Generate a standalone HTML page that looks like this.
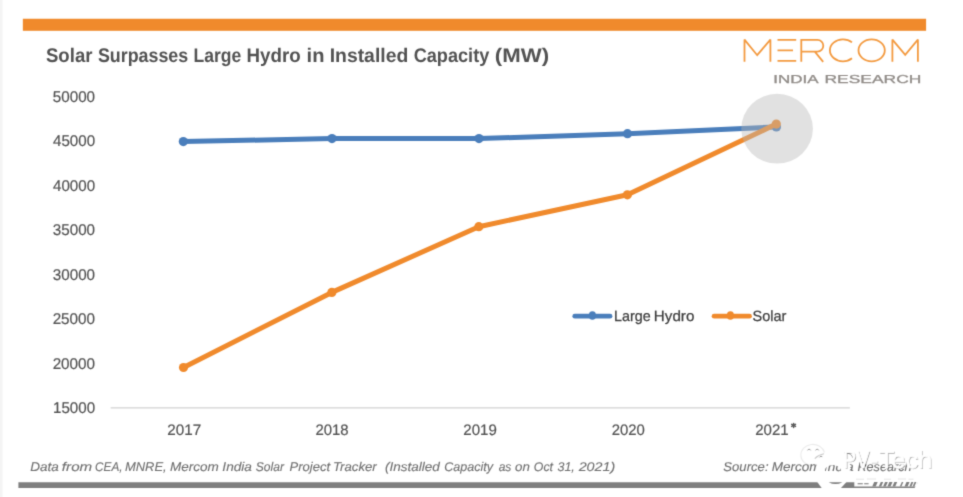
<!DOCTYPE html>
<html lang="en">
<head>
<meta charset="utf-8">
<title>Solar Surpasses Large Hydro in Installed Capacity (MW)</title>
<style>
  html, body { margin: 0; padding: 0; background: #ffffff; }
  body { width: 963px; height: 497px; overflow: hidden; position: relative;
         font-family: "Liberation Sans", sans-serif; }
  svg { will-change: transform; position: absolute; left: 0; top: 0; display: block; }
  text { font-family: "Liberation Sans", sans-serif; text-rendering: geometricPrecision; }
</style>
</head>
<body>
<svg width="963" height="497" viewBox="0 0 963 497">
  <defs>
    <filter id="soft" x="0" y="0" width="963" height="497" filterUnits="userSpaceOnUse" color-interpolation-filters="sRGB">
      <feConvolveMatrix order="3" kernelMatrix="0.01960 0.10080 0.01960 0.10080 0.51840 0.10080 0.01960 0.10080 0.01960" divisor="1" bias="0" edgeMode="duplicate" preserveAlpha="true"/>
    </filter>
  </defs>
  <g filter="url(#soft)">
  <!-- page background -->
  <rect x="0" y="0" width="963" height="497" fill="#ffffff"/>
  <rect x="0" y="0" width="2.5" height="497" fill="#f4f4f4"/>

  <!-- top orange bar -->
  <rect x="22.85" y="18.75" width="903.25" height="12.05" fill="#f08a2c"/>



  <!-- MERCOM logo -->
  <g fill="none" stroke="#f39a40" stroke-width="1.8" stroke-linecap="butt" stroke-linejoin="miter" stroke-miterlimit="1.6">
    <path d="M744.5,61.8 V39.6 L757.2,55.2 L770.4,39.6 V61.8"/>
    <path d="M777.5,39.9 H796.2 M777.5,50.35 H793 M777.5,60.8 H796.2"/>
    <path d="M801.3,61.8 V39.9 H817.4 A5.9,5.9 0 0 1 817.4,51.7 H801.3 M814.8,51.7 L823.2,61.8"/>
    <path d="M852,42.4 A13.1,10.95 0 1 0 852,58.3"/>
    <ellipse cx="871.65" cy="50.35" rx="13.15" ry="10.95"/>
    <path d="M892.4,61.8 V39.6 L905.2,54.9 L917.9,39.6 V61.8"/>
  </g>

  <!-- x axis line -->
  <rect x="110.65" y="407.1" width="739.25" height="1.5" fill="#dadada"/>

  <!-- TEXT-BEGIN -->
  <!-- title -->
  <text x="45.96" y="61.8" font-size="19.7" font-weight="bold" fill="#525252" textLength="46.52" lengthAdjust="spacingAndGlyphs">Solar</text>
  <text x="97.89" y="61.8" font-size="19.7" font-weight="bold" fill="#525252" textLength="90.35" lengthAdjust="spacingAndGlyphs">Surpasses</text>
  <text x="193.43" y="61.8" font-size="19.7" font-weight="bold" fill="#525252" textLength="47.77" lengthAdjust="spacingAndGlyphs">Large</text>
  <text x="246.55" y="61.8" font-size="19.7" font-weight="bold" fill="#525252" textLength="54.19" lengthAdjust="spacingAndGlyphs">Hydro</text>
  <text x="306.60" y="61.8" font-size="19.7" font-weight="bold" fill="#525252" textLength="17.85" lengthAdjust="spacingAndGlyphs">in</text>
  <text x="329.70" y="61.8" font-size="19.7" font-weight="bold" fill="#525252" textLength="78.57" lengthAdjust="spacingAndGlyphs">Installed</text>
  <text x="413.66" y="61.8" font-size="19.7" font-weight="bold" fill="#525252" textLength="75.64" lengthAdjust="spacingAndGlyphs">Capacity</text>
  <text x="494.89" y="61.8" font-size="19.7" font-weight="bold" fill="#525252" textLength="54.31" lengthAdjust="spacingAndGlyphs">(MW)</text>
  <!-- y axis -->
  <text x="52.79" y="101.8" font-size="15.5" fill="#525252" textLength="42.30" lengthAdjust="spacingAndGlyphs" stroke="#525252" stroke-width="0.2">50000</text>
  <text x="53.05" y="146.3" font-size="15.5" fill="#525252" textLength="42.04" lengthAdjust="spacingAndGlyphs" stroke="#525252" stroke-width="0.2">45000</text>
  <text x="53.05" y="190.8" font-size="15.5" fill="#525252" textLength="42.04" lengthAdjust="spacingAndGlyphs" stroke="#525252" stroke-width="0.2">40000</text>
  <text x="52.82" y="235.3" font-size="15.5" fill="#525252" textLength="42.27" lengthAdjust="spacingAndGlyphs" stroke="#525252" stroke-width="0.2">35000</text>
  <text x="52.82" y="279.8" font-size="15.5" fill="#525252" textLength="42.27" lengthAdjust="spacingAndGlyphs" stroke="#525252" stroke-width="0.2">30000</text>
  <text x="52.63" y="324.3" font-size="15.5" fill="#525252" textLength="42.46" lengthAdjust="spacingAndGlyphs" stroke="#525252" stroke-width="0.2">25000</text>
  <text x="52.63" y="368.8" font-size="15.5" fill="#525252" textLength="42.46" lengthAdjust="spacingAndGlyphs" stroke="#525252" stroke-width="0.2">20000</text>
  <text x="53.05" y="413.3" font-size="15.5" fill="#525252" textLength="42.04" lengthAdjust="spacingAndGlyphs" stroke="#525252" stroke-width="0.2">15000</text>
  <!-- x axis -->
  <text x="167.33" y="434.9" font-size="15.2" fill="#525252" textLength="33.93" lengthAdjust="spacingAndGlyphs" stroke="#525252" stroke-width="0.2">2017</text>
  <text x="315.45" y="434.9" font-size="15.2" fill="#525252" textLength="33.20" lengthAdjust="spacingAndGlyphs" stroke="#525252" stroke-width="0.2">2018</text>
  <text x="463.34" y="434.9" font-size="15.2" fill="#525252" textLength="33.47" lengthAdjust="spacingAndGlyphs" stroke="#525252" stroke-width="0.2">2019</text>
  <text x="611.65" y="434.9" font-size="15.2" fill="#525252" textLength="33.13" lengthAdjust="spacingAndGlyphs" stroke="#525252" stroke-width="0.2">2020</text>
  <text x="755.24" y="434.9" font-size="15.2" fill="#525252" textLength="33.49" lengthAdjust="spacingAndGlyphs" stroke="#525252" stroke-width="0.2">2021</text>
  <!-- legend -->
  <text x="614.03" y="321.3" font-size="14.8" fill="#3c3c3c" textLength="36.61" lengthAdjust="spacingAndGlyphs" stroke="#3c3c3c" stroke-width="0.25">Large</text>
  <text x="653.86" y="321.3" font-size="14.8" fill="#3c3c3c" textLength="40.48" lengthAdjust="spacingAndGlyphs" stroke="#3c3c3c" stroke-width="0.25">Hydro</text>
  <text x="752.54" y="321.3" font-size="14.8" fill="#3c3c3c" textLength="33.90" lengthAdjust="spacingAndGlyphs" stroke="#3c3c3c" stroke-width="0.25">Solar</text>
  <!-- footer -->
  <text x="30.18" y="470.9" font-size="12.6" font-style="italic" fill="#707070" textLength="28.58" lengthAdjust="spacingAndGlyphs" stroke="#707070" stroke-width="0.12">Data</text>
  <text x="61.89" y="470.9" font-size="12.6" font-style="italic" fill="#707070" textLength="30.31" lengthAdjust="spacingAndGlyphs" stroke="#707070" stroke-width="0.12">from</text>
  <text x="95.05" y="470.9" font-size="12.6" font-style="italic" fill="#707070" textLength="27.52" lengthAdjust="spacingAndGlyphs" stroke="#707070" stroke-width="0.12">CEA,</text>
  <text x="124.90" y="470.9" font-size="12.6" font-style="italic" fill="#707070" textLength="41.81" lengthAdjust="spacingAndGlyphs" stroke="#707070" stroke-width="0.12">MNRE,</text>
  <text x="169.98" y="470.9" font-size="12.6" font-style="italic" fill="#707070" textLength="48.84" lengthAdjust="spacingAndGlyphs" stroke="#707070" stroke-width="0.12">Mercom</text>
  <text x="222.36" y="470.9" font-size="12.6" font-style="italic" fill="#707070" textLength="29.61" lengthAdjust="spacingAndGlyphs" stroke="#707070" stroke-width="0.12">India</text>
  <text x="255.76" y="470.9" font-size="12.6" font-style="italic" fill="#707070" textLength="28.24" lengthAdjust="spacingAndGlyphs" stroke="#707070" stroke-width="0.12">Solar</text>
  <text x="289.60" y="470.9" font-size="12.6" font-style="italic" fill="#707070" textLength="40.45" lengthAdjust="spacingAndGlyphs" stroke="#707070" stroke-width="0.12">Project</text>
  <text x="333.04" y="470.9" font-size="12.6" font-style="italic" fill="#707070" textLength="43.72" lengthAdjust="spacingAndGlyphs" stroke="#707070" stroke-width="0.12">Tracker</text>
  <text x="385.07" y="470.9" font-size="12.6" font-style="italic" fill="#707070" textLength="54.78" lengthAdjust="spacingAndGlyphs" stroke="#707070" stroke-width="0.12">(Installed</text>
  <text x="444.21" y="470.9" font-size="12.6" font-style="italic" fill="#707070" textLength="48.86" lengthAdjust="spacingAndGlyphs" stroke="#707070" stroke-width="0.12">Capacity</text>
  <text x="498.63" y="470.9" font-size="12.6" font-style="italic" fill="#707070" textLength="12.72" lengthAdjust="spacingAndGlyphs" stroke="#707070" stroke-width="0.12">as</text>
  <text x="515.06" y="470.9" font-size="12.6" font-style="italic" fill="#707070" textLength="14.84" lengthAdjust="spacingAndGlyphs" stroke="#707070" stroke-width="0.12">on</text>
  <text x="533.83" y="470.9" font-size="12.6" font-style="italic" fill="#707070" textLength="19.14" lengthAdjust="spacingAndGlyphs" stroke="#707070" stroke-width="0.12">Oct</text>
  <text x="557.51" y="470.9" font-size="12.6" font-style="italic" fill="#707070" textLength="17.34" lengthAdjust="spacingAndGlyphs" stroke="#707070" stroke-width="0.12">31,</text>
  <text x="578.68" y="470.9" font-size="12.6" font-style="italic" fill="#707070" textLength="36.57" lengthAdjust="spacingAndGlyphs" stroke="#707070" stroke-width="0.12">2021)</text>
  <text x="723.33" y="470.9" font-size="12.6" font-style="italic" fill="#707070" textLength="45.20" lengthAdjust="spacingAndGlyphs" stroke="#707070" stroke-width="0.12">Source:</text>
  <text x="771.68" y="470.9" font-size="12.6" font-style="italic" fill="#707070" textLength="48.84" lengthAdjust="spacingAndGlyphs" stroke="#707070" stroke-width="0.12">Mercom</text>
  <text x="824.06" y="470.9" font-size="12.6" font-style="italic" fill="#707070" textLength="29.61" lengthAdjust="spacingAndGlyphs" stroke="#707070" stroke-width="0.12">India</text>
  <text x="857.41" y="470.9" font-size="12.6" font-style="italic" fill="#707070" textLength="54.17" lengthAdjust="spacingAndGlyphs" stroke="#707070" stroke-width="0.12">Research</text>
  <!-- logo subtitle -->
  <text x="773.33" y="82.6" font-size="11.6" fill="#918c88" textLength="45.30" lengthAdjust="spacingAndGlyphs" stroke="#918c88" stroke-width="0.3">INDIA</text>
  <text x="824.47" y="82.6" font-size="11.6" fill="#918c88" textLength="96.85" lengthAdjust="spacingAndGlyphs" stroke="#918c88" stroke-width="0.3">RESEARCH</text>
  <!-- TEXT-END -->

  <!-- asterisk after 2021 -->
  <g stroke="#5a5a5a" stroke-width="1.5" stroke-linecap="round">
    <line x1="793.6" y1="423.4" x2="793.6" y2="427.4"/>
    <line x1="791.7" y1="424.4" x2="795.5" y2="426.4"/>
    <line x1="795.5" y1="424.4" x2="791.7" y2="426.4"/>
  </g>

  <!-- series: Large Hydro -->
  <g fill="#4a7ebb" stroke="none">
    <polyline points="183.3,141.6 332,138.6 479,138.6 627.5,133.7 776.4,126.9" fill="none" stroke="#4a7ebb" stroke-width="5" stroke-linejoin="round" stroke-linecap="round"/>
    <circle cx="183.3" cy="141.6" r="4.6"/>
    <circle cx="332" cy="138.6" r="4.6"/>
    <circle cx="479" cy="138.6" r="4.6"/>
    <circle cx="627.5" cy="133.7" r="4.6"/>
    <circle cx="776.4" cy="126.9" r="4.6"/>
  </g>

  <!-- series: Solar -->
  <g fill="#f08a2c" stroke="none">
    <polyline points="183.5,367.5 331.8,292.4 478.8,226.7 627.4,194.8 776.3,124.1" fill="none" stroke="#f08a2c" stroke-width="5" stroke-linejoin="round" stroke-linecap="round"/>
    <circle cx="183.5" cy="367.5" r="4.6"/>
    <circle cx="331.8" cy="292.4" r="4.6"/>
    <circle cx="478.8" cy="226.7" r="4.6"/>
    <circle cx="627.4" cy="194.8" r="4.6"/>
    <circle cx="776.3" cy="124.1" r="4.6"/>
  </g>

  <!-- highlight circle -->
  <ellipse cx="777.1" cy="128.7" rx="35.8" ry="34.9" fill="#b8b8b8" fill-opacity="0.42"/>

  <!-- legend -->
  <g>
    <line x1="574.8" y1="316.15" x2="610" y2="316.15" stroke="#4a7ebb" stroke-width="4.8" stroke-linecap="round"/>
    <ellipse cx="592.4" cy="315.5" rx="3.6" ry="4.3" fill="#4a7ebb"/>
    <line x1="714.1" y1="316.15" x2="749.5" y2="316.15" stroke="#f08a2c" stroke-width="4.8" stroke-linecap="round"/>
    <ellipse cx="730.4" cy="315.5" rx="3.6" ry="4.3" fill="#f08a2c"/>
  </g>

  <!-- footer -->

  <!-- bottom gray bar -->
  <polygon points="18.4,482.3 918,482.3 914.5,488 18.4,488" fill="#7f7f7f"/>

  <!-- watermark (white overlay with faint shadow) -->
  <g fill="none">
    <!-- back bubble: faint outline shadow + eyes -->
    <path d="M824.5,452.5 A12,10.6 0 1 0 812,465.6" stroke="#000" stroke-opacity="0.08" stroke-width="1.1"/>
    <path d="M807.5,450.4 a1.7,1.7 0 0 1 3.2,0 M815.6,450.4 a1.7,1.7 0 0 1 3.2,0" stroke="#666" stroke-opacity="0.6" stroke-width="1"/>
    <!-- front bubble: faint top-left arc + eye -->
    <path d="M814.8,458.6 A18,20.7 0 0 1 824,453.8" stroke="#000" stroke-opacity="0.22" stroke-width="1.1"/>
    <path d="M819.4,457.4 a1.8,1.8 0 0 1 3.3,0" stroke="#666" stroke-opacity="0.6" stroke-width="1"/>
    <path d="M844,452.8 q9,-0.5 9,7.5" stroke="#666" stroke-opacity="0.55" stroke-width="1"/>
  </g>
  <!-- front bubble: white ring hiding text -->
  <path fill="#fff" fill-rule="evenodd" d="M816.3,467.5 a17,13.5 0 1 0 34,0 a17,13.5 0 1 0 -34,0 Z M825,470.3 a8,5.2 0 1 0 16,0 a8,5.2 0 1 0 -16,0 Z"/>
  <!-- front bubble bottom cutting the bar -->
  <polygon points="816.5,481 847.4,481 839.6,489.5 822.8,489.5" fill="#fff"/>
  <path d="M828.7,482.2 L842.4,482.2 Q835.5,485.9 828.7,482.2 Z" fill="#7f7f7f"/>
  <!-- PV-Tech -->
  <g fill="#000" fill-opacity="0.36">
    <text x="843.98" y="468.7" font-size="25" textLength="26.41" lengthAdjust="spacingAndGlyphs" >PV</text>
    <text x="870.75" y="468.7" font-size="25" textLength="8.59" lengthAdjust="spacingAndGlyphs" >-</text>
    <text x="879.66" y="468.7" font-size="25" textLength="53.5" lengthAdjust="spacingAndGlyphs" >Tech</text>
  </g>
  <g fill="#fff" stroke="#fff" stroke-width="0.8">
    <text x="842.98" y="468.2" font-size="25" textLength="26.41" lengthAdjust="spacingAndGlyphs" >PV</text>
    <text x="869.75" y="468.2" font-size="25" textLength="8.59" lengthAdjust="spacingAndGlyphs" >-</text>
    <text x="878.66" y="468.2" font-size="25" textLength="53.5" lengthAdjust="spacingAndGlyphs" >Tech</text>
  </g>
  <!-- CJK-like white glyph bottoms over the bar -->
  <polygon points="854.3,480.8 918.5,480.8 916.4,486.4 854.3,486.4" fill="#fff"/>
  <g fill="#7f7f7f">
    <polygon points="872.2,486.6 875.7,486.6 877.7,481.9 874.2,481.9"/>
    <polygon points="878.8,486.6 881.2,486.6 883.2,481.9 880.8,481.9"/>
    <polygon points="883.1,486.6 885.8,486.6 887.8,481.9 885.1,481.9"/>
    <polygon points="887.4,486.6 890.5,486.6 892.5,481.9 889.4,481.9"/>
    <polygon points="892.4,486.6 895.2,486.6 897.2,481.9 894.4,481.9"/>
    <polygon points="899.8,486.6 901.4,486.6 903.4,481.9 901.8,481.9"/>
    <polygon points="904.5,486.6 907.6,486.6 909.6,481.9 906.5,481.9"/>
    <polygon points="909.4,486.6 911.4,486.6 913.4,481.9 911.4,481.9"/>
    <polygon points="912.6,486.6 914.4,486.6 916.4,481.9 914.6,481.9"/>
    <rect x="857.6" y="483.2" width="5.2" height="1.1"/>
    <rect x="864.2" y="483.2" width="4.4" height="1.1"/>
  </g>
  <g stroke="#bdbdbd" stroke-width="0.8" fill="none" stroke-opacity="0.5">
    <path d="M856,479.2 h8 M867,479 h9 M884,479.2 h7 M898,479 h8 M908.5,479.2 h5"/>
  </g>
  </g>
</svg>
</body>
</html>
